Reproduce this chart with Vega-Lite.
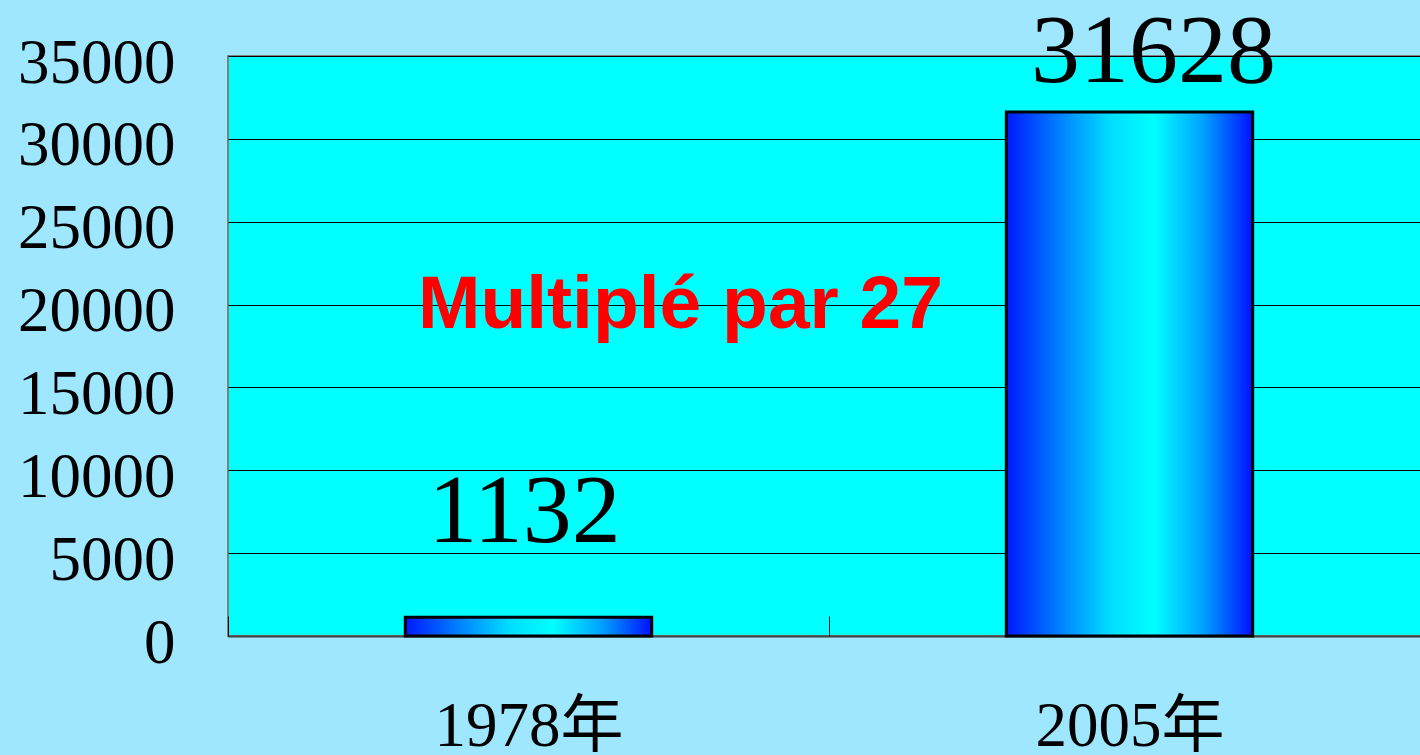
{
  "$schema": "https://vega.github.io/schema/vega-lite/v6.json",
  "autosize": {"type": "none"},
  "padding": {"left": 228, "top": 56, "right": 0, "bottom": 119},
  "width": 1202,
  "height": 580,
  "background": "#9fe6ff",
  "config": {"view": {"fill": "#00ffff", "stroke": "#808080", "strokeWidth": 2}},
  "data": {"values": [
    {"year": "1978年", "value": 1132},
    {"year": "2005年", "value": 31628}
  ]},
  "encoding": {
    "x": {
      "field": "year", "type": "nominal", "sort": null,
      "scale": {"paddingInner": 0, "paddingOuter": 0},
      "axis": {
        "title": null, "labelAngle": 0, "labelLimit": 0,
        "labelFont": "Liberation Serif, Noto Sans CJK SC", "labelFontSize": 63, "labelColor": "#000000",
        "labelPadding": 79,
        "ticks": true, "tickBand": "extent", "tickSize": -20, "tickColor": "#000000", "tickWidth": 1,
        "domain": true, "domainColor": "#404040", "domainWidth": 2,
        "grid": false
      }
    },
    "y": {
      "field": "value", "type": "quantitative",
      "scale": {"domain": [0, 35000], "nice": false},
      "axis": {
        "title": null,
        "values": [0, 5000, 10000, 15000, 20000, 25000, 30000, 35000],
        "format": "d", "labelLimit": 0,
        "labelFont": "Liberation Serif", "labelFontSize": 63, "labelColor": "#000000",
        "labelPadding": 53, "labelOffset": 7,
        "ticks": false, "domain": false,
        "grid": true, "gridColor": "#000000", "gridWidth": 1, "gridOpacity": 1
      }
    }
  },
  "layer": [
    {
      "mark": {
        "type": "bar",
        "width": {"band": 0.41},
        "stroke": "#000000",
        "strokeWidth": 3,
        "color": {
          "gradient": "linear", "x1": 0, "x2": 1, "y1": 0, "y2": 0,
          "stops": [
            {"offset": 0, "color": "#0018ff"},
            {"offset": 0.25, "color": "#0090ff"},
            {"offset": 0.42, "color": "#00ddff"},
            {"offset": 0.6, "color": "#00ffff"},
            {"offset": 0.8, "color": "#00a0ff"},
            {"offset": 1, "color": "#0010ff"}
          ]
        }
      }
    },
    {
      "transform": [{"filter": "datum.year == '1978年'"}],
      "mark": {"type": "text", "font": "Liberation Serif", "fontSize": 98, "baseline": "alphabetic", "dy": -75, "dx": -4, "color": "#000000"},
      "encoding": {"text": {"field": "value", "type": "quantitative", "format": "d"}}
    },
    {
      "transform": [{"filter": "datum.year == '2005年'"}],
      "mark": {"type": "text", "font": "Liberation Serif", "fontSize": 98, "baseline": "alphabetic", "dy": -30, "dx": 24, "color": "#000000"},
      "encoding": {"text": {"field": "value", "type": "quantitative", "format": "d"}}
    },
    {
      "data": {"values": [{"year": "1978年", "value": 20000, "note": "Multiplé par 27"}]},
      "mark": {"type": "text", "font": "Liberation Sans", "fontWeight": "bold", "fontSize": 75, "baseline": "middle", "dx": 152, "color": "#ff0000"},
      "encoding": {"text": {"field": "note", "type": "nominal"}}
    }
  ]
}
